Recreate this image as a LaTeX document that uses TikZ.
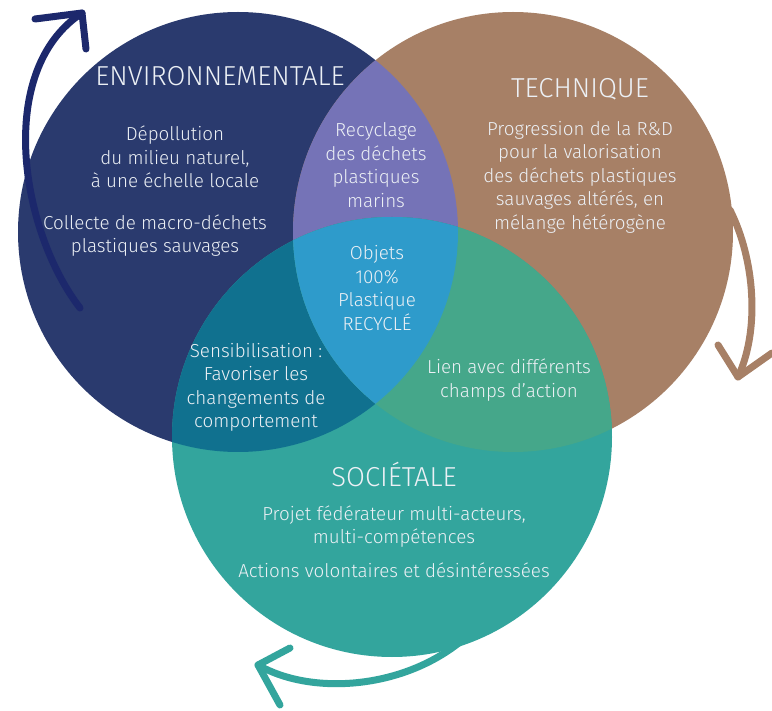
\documentclass[tikz,border=0pt]{standalone}
\usepackage{fontspec}
\setmainfont{Fira Sans Light}
\definecolor{bleuEnv}{RGB}{42,58,110}
\definecolor{brunTech}{RGB}{167,128,102}
\definecolor{vertSoc}{RGB}{51,165,157}
\definecolor{lavande}{RGB}{117,115,183}
\definecolor{bleuCanard}{RGB}{16,113,143}
\definecolor{vertMenthe}{RGB}{69,167,138}
\definecolor{bleuCentre}{RGB}{46,155,203}
\definecolor{bleuFleche}{RGB}{28,40,108}
\definecolor{texteClair}{RGB}{236,240,245}
\usetikzlibrary{positioning}

\begin{document}
\begin{tikzpicture}[x=1pt, y=-1pt,
  rond/.style={radius=220pt},
  titre/.style={font=\fontsize{27.4}{32}\selectfont, text=texteClair, inner sep=0pt, anchor=base},
  txt/.style={font=\fontsize{18.8}{23.5}\selectfont, text=texteClair, align=center, inner sep=0pt},
  fleche/.style={line width=7pt, line cap=round, line join=round}
]
  \fill[white] (0,0) rectangle (772,711);
  \useasboundingbox (0,0) rectangle (772,711);

  \coordinate (env) at (238,232);
  \coordinate (tec) at (513,232);
  \coordinate (soc) at (392,437);

  % cercles
  \fill[bleuEnv] (env) circle[rond];
  \fill[brunTech] (tec) circle[rond];
  \fill[vertSoc] (soc) circle[rond];

  % intersections
  \begin{scope}
    \clip (env) circle[rond];
    \fill[lavande] (tec) circle[rond];
    \fill[bleuCanard] (soc) circle[rond];
    \clip (tec) circle[rond];
    \fill[bleuCentre] (soc) circle[rond];
  \end{scope}
  \begin{scope}
    \clip (tec) circle[rond];
    \fill[vertMenthe] (soc) circle[rond];
    \clip (env) circle[rond];
    \fill[bleuCentre] (soc) circle[rond];
  \end{scope}

  % fleches du cycle
  \draw[fleche, bleuFleche] (80,308) .. controls (20,230) and (-5,70) .. (82,13);
  \draw[fleche, bleuFleche] (35,19) -- (82,13) -- (86,49);
  \draw[fleche, brunTech] (730,210) .. controls (755,260) and (760,330) .. (738,377);
  \draw[fleche, brunTech] (718,345) -- (738,377) -- (772,353);
  \draw[fleche, vertSoc] (460,642) .. controls (400,690) and (310,695) .. (258,665);
  \draw[fleche, vertSoc] (290,648) -- (258,665) -- (280,705);

  % titres
  \node[titre] (envT) at (220,86) {ENVIRONNEMENTALE};
  \node[titre] (tecT) at (580,98) {TECHNIQUE};
  \node[titre] (socT) at (394,487) {SOCIÉTALE};

  % textes
  \node[txt] (envA) at (175,157) {Dépollution\\du milieu naturel,\\à une échelle locale};
  \node[txt] (envB) at (155,235.5) {Collecte de macro-déchets\\plastiques sauvages};
  \node[txt] (tecA) at (580,177) {Progression de la R\&D\\pour la valorisation\\des déchets plastiques\\sauvages altérés, en\\mélange hétérogène};
  \node[txt] (envTec) at (376,165) {Recyclage\\des déchets\\plastiques\\marins};
  \node[txt] (centre) at (377,288) {Objets\\100\%\\Plastique\\RECYCLÉ};
  \node[txt] (envSoc) at (256,387.5) {Sensibilisation :\\Favoriser les\\changements de\\comportement};
  \node[txt] (tecSoc) at (509,380) {Lien avec différents\\champs d’action};
  \node[txt] (socA) at (394,526.5) {Projet fédérateur multi-acteurs,\\multi-compétences};
  \node[txt] (socB) at (394,570) {Actions volontaires et désintéressées};
\end{tikzpicture}
\end{document}
